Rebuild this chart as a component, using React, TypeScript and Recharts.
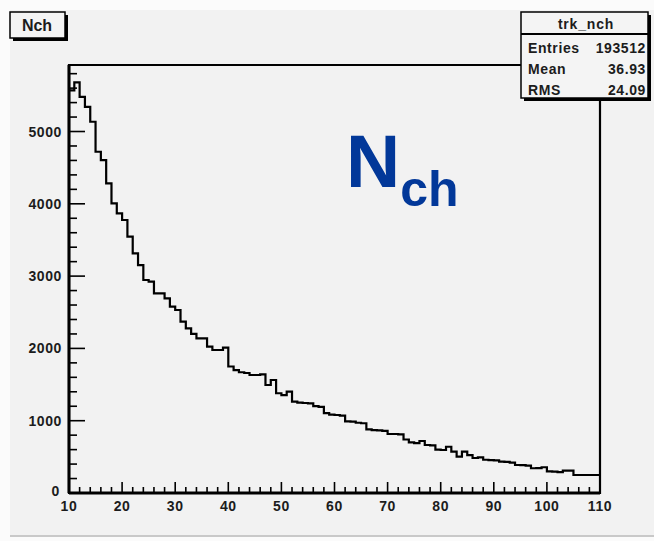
import { LineChart, Line, XAxis, YAxis, ReferenceArea } from 'recharts'

// bins of width 1 starting at 10 (trk_nch histogram)
const X_MIN = 10
const X_MAX = 110
const BIN_WIDTH = 1

const counts = [
  5570, 5680, 5480, 5340, 5135, 4720, 4605, 4283, 4007, 3868,
  3776, 3545, 3315, 3153, 2946, 2923, 2762, 2762, 2693, 2577,
  2531, 2370, 2278, 2200, 2140, 2140, 2024, 1978, 1978, 2010,
  1750, 1700, 1670, 1660, 1632, 1632, 1640, 1494, 1563, 1380,
  1355, 1401, 1263, 1250, 1245, 1240, 1203, 1190, 1106, 1085,
  1079, 1070, 990, 986, 972, 965, 880, 871, 865, 860,
  816, 816, 810, 740, 700, 690, 719, 664, 660, 600,
  595, 640, 571, 502, 571, 525, 484, 493, 460, 456,
  450, 433, 430, 420, 387, 385, 380, 342, 345, 356,
  300, 295, 290, 309, 309, 249, 249, 249, 249, 249,
]

const xTicks = [
  10, 12, 14, 16, 18, 20, 22, 24, 26, 28, 30, 32, 34, 36, 38, 40, 42, 44, 46, 48, 50,
  52, 54, 56, 58, 60, 62, 64, 66, 68, 70, 72, 74, 76, 78, 80, 82, 84, 86, 88, 90,
  92, 94, 96, 98, 100, 102, 104, 106, 108, 110,
]
const yTicks = [
  0, 200, 400, 600, 800, 1000, 1200, 1400, 1600, 1800, 2000, 2200, 2400, 2600, 2800,
  3000, 3200, 3400, 3600, 3800, 4000, 4200, 4400, 4600, 4800, 5000, 5200, 5400, 5600, 5800,
]
const Y_MAX = 5920

const statsTitle = 'trk_nch'
const statsRows = [
  { label: 'Entries', value: '193512' },
  { label: 'Mean', value: '36.93' },
  { label: 'RMS', value: '24.09' },
]

const data = counts.map((count, i) => ({ x: X_MIN + i * BIN_WIDTH, count }))
data.push({ x: X_MAX, count: counts[counts.length - 1] })

const W = 654
const H = 541
const PL = 69
const PR = 600
const PT = 65
const PB = 493
const AXIS_W = 40
const AXIS_H = 30
const FONT = '"Liberation Sans", Arial, Helvetica, sans-serif'
const LABEL = '#1c1c1c'

function renderXTick(props: any) {
  const { x, payload } = props
  const v = payload.value
  const major = v % 10 === 0
  return (
    <g key={`xt-${v}`}>
      <line x1={x} x2={x} y1={PB} y2={PB - (major ? 11 : 6)} stroke="#000" strokeWidth={1.6} />
      {major && (
        <text x={x} y={PB + 13} textAnchor="middle" dominantBaseline="central" fontSize={14}
          fontWeight="bold" fontFamily={FONT} fill={LABEL} letterSpacing={0.6}>
          {v}
        </text>
      )}
    </g>
  )
}

function renderYTick(props: any) {
  const { y, payload } = props
  const v = payload.value
  const major = v % 1000 === 0
  return (
    <g key={`yt-${v}`}>
      <line x1={PL} x2={PL + (major ? 16 : 8)} y1={y} y2={y} stroke="#000" strokeWidth={1.6} />
      {major && (
        <text x={v === 0 ? PL - 9 : PL - 7} y={v === 0 ? y - 2 : y} textAnchor="end" dominantBaseline="central"
          fontSize={14} fontWeight="bold" fontFamily={FONT} fill={LABEL} letterSpacing={0.6}>
          {v}
        </text>
      )}
    </g>
  )
}

export default function App() {
  return (
    <div style={{ position: 'absolute', left: 0, top: 0, width: W, height: H, background: '#fbfbfb', overflow: 'hidden' }}>
      <div style={{ position: 'absolute', left: 10, top: 10, width: W - 10, height: 525, background: '#f2f2f2', borderBottom: '2px solid #c9c9c9' }} />
      <div style={{ position: 'absolute', left: 0, top: 0 }}>
        <LineChart width={W} height={H} data={data}
          margin={{ top: PT, right: W - PR, bottom: H - PB - AXIS_H, left: PL - AXIS_W }}>
          <ReferenceArea x1={X_MIN} x2={X_MAX} y1={0} y2={Y_MAX} fill="none" stroke="#000" strokeWidth={2.2} ifOverflow="visible" />
          <XAxis dataKey="x" type="number" domain={[X_MIN, X_MAX]} ticks={xTicks} interval={0}
            axisLine={{ stroke: '#000', strokeWidth: 3 }} tickLine={false} tick={renderXTick} height={AXIS_H} allowDataOverflow />
          <YAxis type="number" domain={[0, Y_MAX]} ticks={yTicks} interval={0}
            axisLine={{ stroke: '#000', strokeWidth: 3 }} tickLine={false} tick={renderYTick} width={AXIS_W} allowDataOverflow />
          <Line type="stepAfter" dataKey="count" stroke="#000" strokeWidth={2.2} dot={false} isAnimationActive={false} />
        </LineChart>
      </div>
      <svg width={W} height={H} style={{ position: 'absolute', left: 0, top: 0, pointerEvents: 'none' }}>
        {/* title box */}
        <rect x={13} y={15} width={55} height={26} fill="#000" />
        <rect x={10} y={12} width={55} height={26} fill="#f4f4f4" stroke="#000" strokeWidth={1.5} />
        <text x={37} y={31} textAnchor="middle" fontSize={16} fontWeight="bold" fontFamily={FONT} fill={LABEL}>Nch</text>

        {/* stats box */}
        <rect x={524} y={15} width={127} height={86} fill="#000" />
        <rect x={521} y={12} width={127} height={86} fill="#f4f4f4" stroke="#000" strokeWidth={1.5} />
        <line x1={521} x2={648} y1={34} y2={34} stroke="#000" strokeWidth={2} />
        <text x={586} y={29} textAnchor="middle" fontSize={14} fontWeight="bold" fontFamily={FONT} fill={LABEL} letterSpacing={0.8}>{statsTitle}</text>
        {statsRows.map((r, i) => (
          <g key={r.label}>
            <text x={528} y={53 + i * 21} fontSize={14} fontWeight="bold" fontFamily={FONT} fill={LABEL} letterSpacing={0.6}>{r.label}</text>
            <text x={646} y={53 + i * 21} textAnchor="end" fontSize={14} fontWeight="bold" fontFamily={FONT} fill={LABEL} letterSpacing={0.6}>{r.value}</text>
          </g>
        ))}

        {/* big label */}
        <text x={346} y={187} fontSize={75} fontWeight="bold" fontFamily={FONT} fill="#023899">
          N<tspan fontSize={50} dy={19}>ch</tspan>
        </text>
      </svg>
    </div>
  )
}
